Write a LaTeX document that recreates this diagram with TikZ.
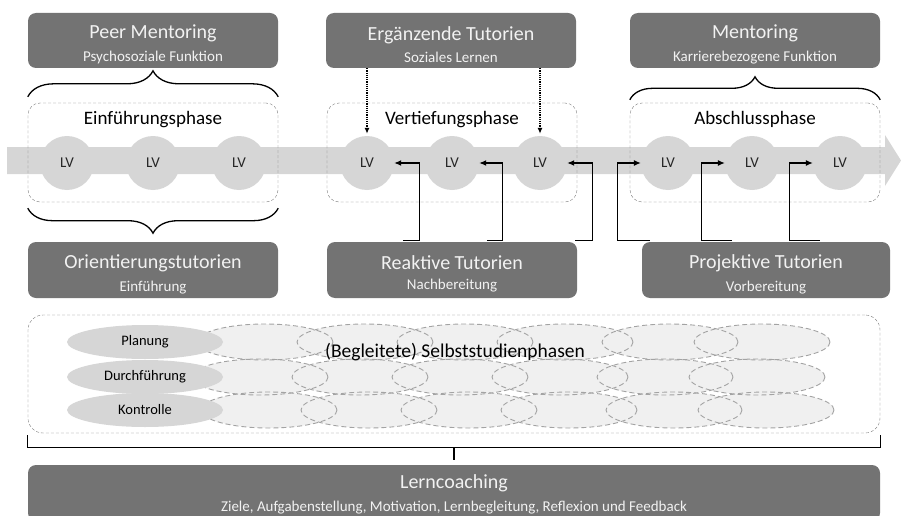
\documentclass[tikz,border=0pt]{standalone}
\usepackage{fontspec}
\setmainfont{Carlito}
\usetikzlibrary{arrows.meta,shapes.geometric,decorations.pathreplacing}

\definecolor{boxgray}{HTML}{737373}
\definecolor{boxtext}{HTML}{F2F2F2}
\definecolor{bandgray}{HTML}{D6D6D6}
\definecolor{dashgray}{HTML}{7A7A7A}
\definecolor{ellgray}{HTML}{F0F0F0}
\definecolor{elldash}{HTML}{A3A3A3}

\newcommand{\twoline}[3][22pt]{{\fontsize{20}{24}\selectfont\rule{0pt}{#1}#2}\\[8pt]{\fontsize{15}{16}\selectfont #3}}

\begin{document}
\begin{tikzpicture}[x=1pt,y=-1pt,
    darkbox/.style={fill=boxgray, rounded corners=8pt, text=boxtext, minimum width=250pt, minimum height=55pt, align=center, inner sep=0pt},
    phasebox/.style={draw=dashgray, densely dashed, rounded corners=12pt, minimum width=250pt, minimum height=99pt},
    phaselabel/.style={font=\fontsize{19}{19}\selectfont, inner sep=0pt},
    lvnode/.style={circle, fill=bandgray, minimum size=54pt, inner sep=0pt, text=black!85, font=\fontsize{15}{15}\selectfont},
    studyell/.style={ellipse, fill=bandgray, minimum width=156pt, minimum height=34pt, inner sep=0pt, font=\fontsize{14.5}{15}\selectfont},
    curly/.style={decorate, decoration={brace, amplitude=#1}, line width=1.3pt},
    tutarrow/.style={line width=1.2pt, -{Latex[length=7pt,width=6pt]}},
    dotarrow/.style={line width=1.2pt, densely dotted, -{Latex[length=6pt,width=5pt]}},
    bracket/.style={line width=1.2pt}]
    \useasboundingbox (0,0) rectangle (901,516);

    \node[darkbox] (peer) at (153,40.5) {\twoline{Peer Mentoring}{Psychosoziale Funktion}};
    \node[darkbox] (ergaenz) at (451,40.5) {\twoline{Ergänzende Tutorien}{Soziales Lernen}};
    \node[darkbox] (mentor) at (755,40.5) {\twoline{Mentoring}{Karrierebezogene Funktion}};
    \node[darkbox, minimum height=56pt] (orient) at (153,270) {\twoline{Orientierungstutorien}{Einführung}};
    \node[darkbox, minimum height=56pt] (reakt) at (452,270) {\twoline{Reaktive Tutorien}{Nachbereitung}};
    \node[darkbox, minimum height=56pt, minimum width=248pt] (projekt) at (766,270) {\twoline{Projektive Tutorien}{Vorbereitung}};

    \fill[bandgray] (7,147) -- (885,147) -- (885,135) -- (901,160.5) -- (885,186) -- (885,174) -- (7,174) -- cycle;
    \foreach \i/\x in {1/67,2/153,3/239,4/367,5/452,6/540,7/668,8/752,9/840}
        \node[lvnode] (lv\i) at (\x,163) {LV};

    \node[phasebox] (einf) at (153,152.5) {};
    \node[phasebox] (vert) at (452,152.5) {};
    \node[phasebox] (absch) at (755,152.5) {};
    \node[phaselabel] (einflabel) at ([yshift=-17pt]einf.north) {Einführungsphase};
    \node[phaselabel] (vertlabel) at ([yshift=-17pt]vert.north) {Vertiefungsphase};
    \node[phaselabel] (abschlabel) at ([yshift=-17pt]absch.north) {Abschlussphase};

    \draw[curly=26pt] ([yshift=6pt]einf.north west) -- ([yshift=6pt]einf.north east);
    \draw[curly=25pt] ([yshift=-6pt]einf.south east) -- ([yshift=-6pt]einf.south west);
    \draw[curly=23pt] ([yshift=3pt]absch.north west) -- ([yshift=3pt]absch.north east);

    \draw[dotarrow] (ergaenz.south -| lv4) -- ([yshift=2pt]lv4.north);
    \draw[dotarrow] (ergaenz.south -| lv6) -- ([yshift=2pt]lv6.north);

    \draw[tutarrow] ([xshift=76pt,yshift=1pt]reakt.north west) -- ++(17,0) |- (lv4.east);
    \draw[tutarrow] ([xshift=160pt,yshift=1pt]reakt.north west) -- ++(16,0) |- (lv5.east);
    \draw[tutarrow] ([xshift=-2pt,yshift=1pt]reakt.north east) -- ++(17,0) |- (lv6.east);
    \draw[tutarrow] ([xshift=8pt,yshift=1pt]projekt.north west) -- ++(-32,0) |- (lv7.west);
    \draw[tutarrow] ([xshift=90pt,yshift=1pt]projekt.north west) -- ++(-30,0) |- (lv8.west);
    \draw[tutarrow] ([xshift=178pt,yshift=1pt]projekt.north west) -- ++(-30,0) |- (lv9.west);

    \node[draw=dashgray, densely dashed, rounded corners=15pt, minimum width=852pt, minimum height=118pt] (selbst) at (454,374) {};
    \foreach \y/\s in {342/0,377/-5,410/4}
        \foreach \x in {265,365,465,565,670,762}
            \fill[ellgray] (\x+\s,\y) ellipse (68 and 18);
    \foreach \y/\s in {342/0,377/-5,410/4}
        \foreach \x in {265,365,465,565,670,762}
            \draw[elldash, dash pattern=on 5pt off 3pt, line width=0.9pt] (\x+\s,\y) ellipse (68 and 18);
    \node[studyell] (planung) at (145,342) {Planung};
    \node[studyell] (durchf) at (145,377) {Durchführung};
    \node[studyell] (kontrolle) at (145,410) {Kontrolle};
    \node[font=\fontsize{19.5}{20}\selectfont, inner sep=1pt] (selbsttext) at (455,352) {(Begleitete) Selbststudienphasen};

    \node[darkbox, minimum width=852pt, minimum height=56pt] (lerncoach) at (454,493) {\twoline[16pt]{Lerncoaching}{Ziele, Aufgabenstellung, Motivation, Lernbegleitung, Reflexion und Feedback}};
    \draw[bracket] ([yshift=-2pt]selbst.south west) -- ([yshift=-14pt]selbst.south west) -- ([yshift=-14pt]selbst.south east) -- ([yshift=-2pt]selbst.south east);
    \draw[bracket] ([yshift=-14pt]selbst.south) -- ([yshift=5pt]lerncoach.north);
\end{tikzpicture}
\end{document}
